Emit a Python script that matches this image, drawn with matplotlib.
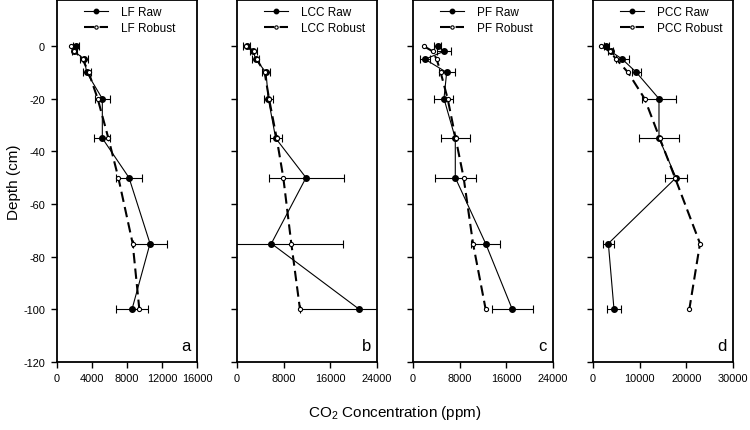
import matplotlib
matplotlib.use("Agg")
import matplotlib.pyplot as plt

plt.rcParams['font.family'] = ['Liberation Sans', 'DejaVu Sans']
plt.rcParams['mathtext.default'] = 'regular'

depth = [0, -2, -5, -10, -20, -35, -50, -75, -100]

sites = ["LF", "LCC", "PF", "PCC"]
panel_letters = ["a", "b", "c", "d"]

lf_raw = [2130, 1980, 3120, 3390, 5180, 5180, 8230, 10630, 8570]
lf_err = [340, 300, 460, 460, 860, 900, 1520, 1900, 1850]
lf_rob = [1560, 1940, 2930, 3620, 4650, 5870, 7010, 8650, 9410]

lcc_raw = [1660, 2800, 3200, 4970, 5370, 6630, 11830, 5890, 20970]
lcc_err = [630, 600, 600, 770, 770, 1000, 6430, 12340, 10170]
lcc_rob = [1490, 2910, 3370, 4740, 5490, 6800, 7940, 9310, 10800]

pf_raw = [4230, 5310, 2060, 5770, 5310, 7250, 7250, 12450, 17020]
pf_err = [570, 1200, 910, 1370, 1630, 2460, 3540, 2460, 3540]
pf_rob = [1830, 3370, 4060, 4740, 5940, 7310, 8680, 10290, 12460]

pcc_raw = [2860, 3790, 6290, 9290, 14140, 14140, 17790, 3290, 4500]
pcc_err = [570, 500, 1360, 960, 3600, 4390, 2390, 1140, 1460]
pcc_rob = [1790, 3570, 5000, 7500, 11070, 14300, 17570, 22930, 20640]

raw_sets = [lf_raw, lcc_raw, pf_raw, pcc_raw]
err_sets = [lf_err, lcc_err, pf_err, pcc_err]
rob_sets = [lf_rob, lcc_rob, pf_rob, pcc_rob]

x_maxes = [16000, 24000, 24000, 30000]
x_ticks = [[0, 4000, 8000, 12000, 16000],
           [0, 8000, 16000, 24000],
           [0, 8000, 16000, 24000],
           [0, 10000, 20000, 30000]]
y_ticks = [0, -20, -40, -60, -80, -100, -120]

fig = plt.figure(figsize=(7.5, 4.31), dpi=100)
lefts_px = [57, 237, 413, 593]
W, H = 750.0, 431.0
for i in range(4):
    ax = fig.add_axes([lefts_px[i] / W, 1 - 363 / H, 140 / W, 362 / H])
    ax.plot(raw_sets[i], depth, '-', color='black', lw=0.8, marker='o',
            markersize=4, markerfacecolor='black', markeredgecolor='black',
            label=f"{sites[i]} Raw", zorder=3)
    ax.plot(rob_sets[i], depth, color='black', lw=1.5, ls=(0, (5, 2.5)),
            marker='o', markersize=3, markerfacecolor='white',
            markeredgecolor='black', markeredgewidth=0.8,
            label=f"{sites[i]} Robust", zorder=4)
    ax.errorbar(raw_sets[i], depth, xerr=err_sets[i], fmt='none',
                ecolor='black', elinewidth=0.8, capsize=3, capthick=0.8,
                zorder=2)
    ax.set_xlim(0, x_maxes[i])
    ax.set_ylim(-120, 17.5)
    ax.set_xticks(x_ticks[i])
    ax.set_xticklabels([str(t) for t in x_ticks[i]])
    ax.set_yticks(y_ticks)
    if i == 0:
        ax.set_yticklabels([str(t) for t in y_ticks])
    else:
        ax.set_yticklabels([])
    ax.tick_params(axis='both', direction='out', length=4, width=1,
                   labelsize=7.9)
    ax.tick_params(axis='x', pad=4)
    ax.tick_params(axis='y', pad=4.5)
    for s in ax.spines.values():
        s.set_linewidth(1.3)
    ax.text(0.955, 0.025, panel_letters[i], transform=ax.transAxes,
            ha='right', va='bottom', fontsize=12)
    ax.legend(loc='upper left', bbox_to_anchor=(27 / 140, 0.983),
              frameon=False, fontsize=8.5, handlelength=2.05,
              handletextpad=1.05, labelspacing=0.3, markerscale=0.8,
              borderaxespad=0, borderpad=0)

fig.text(395 / W, 1 - 413 / H, "CO$_2$ Concentration (ppm)", ha='center',
         va='center', fontsize=11)
fig.text(14 / W, 1 - 182 / H, "Depth (cm)", rotation=90, ha='center',
         va='center', fontsize=11)

fig.savefig("out.png", dpi=100)
